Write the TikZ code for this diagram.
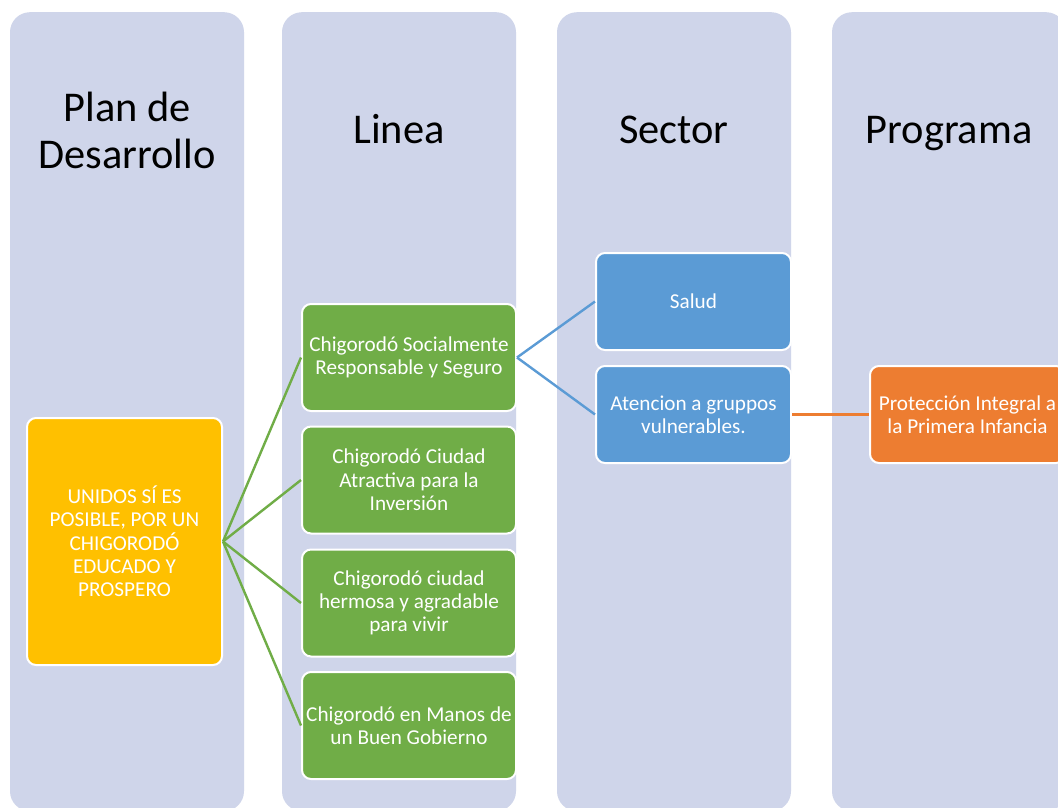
\documentclass[tikz,border=0pt]{standalone}
\usepackage{fontspec}
\setmainfont{Carlito}
\definecolor{colbg}{HTML}{CFD5EA}
\definecolor{yel}{HTML}{FFC000}
\definecolor{grn}{HTML}{70AD47}
\definecolor{blu}{HTML}{5B9BD5}
\definecolor{org}{HTML}{ED7D31}
\begin{document}
\begin{tikzpicture}[x=1pt,y=-1pt,
  column/.style={fill=colbg,draw=none,rounded corners=20pt,minimum width=234pt,minimum height=799pt,inner sep=0pt,anchor=north},
  header/.style={font=\fontsize{42.4}{47}\selectfont,align=center,text=black},
  box/.style={draw=white,line width=2pt,rounded corners=9pt,inner sep=0pt,align=center,text=white,font=\fontsize{21.2}{23.3}\selectfont},
  ybox/.style={box,fill=yel,minimum width=195pt,minimum height=247pt},
  gbox/.style={box,fill=grn,minimum width=214pt,minimum height=107pt},
  bbox/.style={box,fill=blu,minimum width=195pt,minimum height=97pt},
  obox/.style={box,fill=org,minimum width=195pt,minimum height=97pt},
  glink/.style={draw=grn,line width=2.4pt},
  blink/.style={draw=blu,line width=2.4pt},
  olink/.style={draw=org,line width=2.4pt}]
\useasboundingbox (0,0) rectangle (1058,808);
\fill[white] (0,0) rectangle (1058,808);
\node[column] (c1) at (127,12) {};
\node[column] (c2) at (399,12) {};
\node[column] (c3) at (674,12) {};
\node[column] (c4) at (949,12) {};
\node[header] (h1) at (127,130) {Plan de\\Desarrollo};
\node[header,anchor=base] (h2) at (399,143) {Linea};
\node[header,anchor=base] (h3) at (674,143) {Sector};
\node[header,anchor=base] (h4) at (949,143) {Programa};
\node[ybox] (y) at (124.5,541.5) {UNIDOS SÍ ES\\POSIBLE, POR UN\\CHIGORODÓ\\EDUCADO Y\\PROSPERO};
\node[gbox] (g1) at (409,357.5) {Chigorodó Socialmente\\Responsable y Seguro};
\node[gbox] (g2) at (409,480) {Chigorodó Ciudad\\Atractiva para la\\Inversión};
\node[gbox] (g3) at (409,603) {Chigorodó ciudad\\hermosa y agradable\\para vivir};
\node[gbox] (g4) at (409,725.5) {Chigorodó en Manos de\\un Buen Gobierno};
\node[bbox] (b1) at (693.5,301.5) {Salud};
\node[bbox] (b2) at (693.5,414.5) {Atencion a gruppos\\vulnerables.};
\node[obox] (o1) at (967.5,414.5) {Protección Integral a\\la Primera Infancia};
\foreach \g in {g1,g2,g3,g4} \path[glink] (y.east) -- (\g.west);
\path[blink] (g1.east) -- (b1.west);
\path[blink] (g1.east) -- (b2.west);
\path[olink] (b2.east) -- (o1.west);
\end{tikzpicture}
\end{document}
